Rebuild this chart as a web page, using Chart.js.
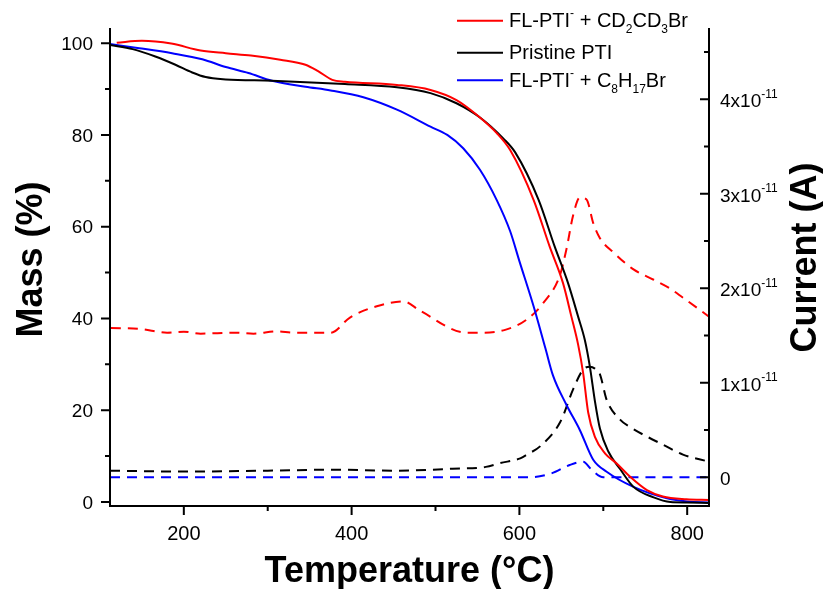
<!DOCTYPE html>
<html>
<head>
<meta charset="utf-8">
<script src="https://cdn.jsdelivr.net/npm/chart.js@4.4.1/dist/chart.umd.min.js"></script>
<style>
  html, body { margin: 0; padding: 0; background: #fff; }
</style>
</head>
<body>
<canvas id="tga" width="823" height="589"></canvas>
<script>
const FONT = '"Liberation Sans", Arial, sans-serif';

// TGA mass curves (temperature in °C, mass in %)
const redTemp = [120, 150, 185, 220, 250, 280, 315, 345, 360, 377, 392, 454, 494, 525, 549, 573, 589, 617, 636, 652, 662, 670, 676, 682, 690, 702, 716, 732, 752, 771, 799, 826];
const redMass = [100.1, 100.5, 99.9, 98.4, 97.8, 97.3, 96.4, 95.3, 93.9, 92.0, 91.6, 90.9, 89.8, 87.6, 84.4, 80.4, 76.7, 65.8, 55.7, 47.7, 40.4, 34.3, 28.1, 19.5, 14.2, 10.6, 8.4, 5.5, 2.6, 1.2, 0.6, 0.45];

const blackTemp = [112, 139, 166, 190, 210, 226, 250, 305, 392, 454, 494, 525, 553, 581, 595, 623, 642, 658, 670, 678, 684, 690, 696, 706, 720, 736, 760, 780, 800, 826];
const blackMass = [99.6, 98.7, 97.1, 95.3, 93.6, 92.6, 92.1, 91.8, 91.1, 90.4, 89.1, 86.9, 83.8, 79.2, 76.2, 65.8, 55.7, 47.7, 40.4, 35.3, 29.5, 22.0, 16.0, 11.0, 7.2, 3.3, 1.0, 0.0, -0.1, -0.2];

const blueTemp = [112, 147, 186, 222, 250, 277, 305, 345, 375, 414, 454, 494, 514, 533, 553, 573, 589, 600, 617, 631, 640, 656, 672, 688, 704, 736, 776, 800, 826];
const blueMass = [99.8, 98.9, 97.8, 96.5, 94.8, 93.5, 91.8, 90.5, 89.7, 88.2, 85.5, 81.8, 80.0, 77.1, 72.4, 65.8, 59.0, 52.5, 42.6, 33.5, 27.6, 21.2, 15.7, 9.2, 6.6, 3.3, 0.8, 0.1, -0.1];

// MS ion current curves (temperature in °C, current in units of 1e-11 A)
const redMsTemp = [113, 148, 180, 200, 220, 260, 283, 311, 331, 375, 398, 430, 462, 482, 537, 557, 583, 609, 629, 648, 656, 664, 672, 680, 688, 696, 712, 736, 760, 779, 795, 826];
const redCurrent = [1.58, 1.57, 1.53, 1.54, 1.52, 1.53, 1.52, 1.545, 1.53, 1.53, 1.69, 1.81, 1.86, 1.76, 1.53, 1.53, 1.56, 1.67, 1.85, 2.13, 2.41, 2.77, 2.96, 2.94, 2.69, 2.53, 2.38, 2.2, 2.09, 2.0, 1.9, 1.7];

const blackMsTemp = [112, 200, 300, 380, 450, 520, 560, 577, 601, 609, 625, 649, 664, 676, 684, 690, 696, 704, 720, 734, 750, 770, 795, 826];
const blackCurrent = [0.07, 0.06, 0.07, 0.08, 0.07, 0.09, 0.11, 0.15, 0.2, 0.24, 0.33, 0.59, 0.93, 1.14, 1.17, 1.15, 1.09, 0.82, 0.61, 0.52, 0.44, 0.35, 0.24, 0.165];

const blueMsTemp = [112, 612, 638, 660, 676, 686, 700, 826];
const blueCurrent = [0, 0, 0.04, 0.13, 0.165, 0.08, 0, 0];

// axis ticks
const tempTicks = [200, 400, 600, 800];
const tempMinor = [300, 500, 700];
const massTicks = [0, 20, 40, 60, 80, 100];
const massMinor = [10, 30, 50, 70, 90];
const currentTicks = [0, 1, 2, 3, 4];
const currentMinor = [0.5, 1.5, 2.5, 3.5, 4.5];

function pts(xs, ys) {
  return xs.map((x, i) => ({ x: x, y: ys[i] }));
}

const SUB = { '₀': '0', '₁': '1', '₂': '2', '₃': '3', '₄': '4', '₅': '5', '₆': '6', '₇': '7', '₈': '8', '₉': '9' };
const SUP = { '⁻': '-', '¹': '1' };

function splitRich(label) {
  // "CD₂" -> [{t:'CD',k:0},{t:'2',k:-1}]
  const parts = [];
  for (const ch of label) {
    let k = 0, c = ch;
    if (SUB[ch]) { k = -1; c = SUB[ch]; }
    else if (SUP[ch]) { k = 1; c = SUP[ch]; }
    const last = parts[parts.length - 1];
    if (last && last.k === k) last.t += c;
    else parts.push({ t: c, k: k });
  }
  return parts;
}

function drawRich(ctx, label, x, y, size) {
  for (const p of splitRich(label)) {
    const s = p.k === 0 ? size : Math.round(size * 0.62);
    ctx.font = s + 'px ' + FONT;
    const dy = p.k === 1 ? -size * 0.5 : p.k === -1 ? size * 0.3 : 0;
    ctx.fillText(p.t, x, y + dy);
    x += ctx.measureText(p.t).width;
  }
  return x;
}

const frame = {
  id: 'frame',
  afterDatasetsDraw(chart) {
    const { ctx, chartArea: a } = chart;
    const sx = chart.scales.x, sy = chart.scales.y, sy2 = chart.scales.y2;
    ctx.save();
    ctx.strokeStyle = '#000';
    ctx.fillStyle = '#000';
    ctx.lineWidth = 2;

    // axis lines (no top line)
    ctx.beginPath();
    ctx.moveTo(a.left, a.top);
    ctx.lineTo(a.left, a.bottom);
    ctx.lineTo(a.right, a.bottom);
    ctx.lineTo(a.right, a.top);
    ctx.stroke();

    // ticks: left and bottom point out, right points in
    ctx.beginPath();
    massTicks.forEach(v => { const p = sy.getPixelForValue(v); ctx.moveTo(a.left - 9, p); ctx.lineTo(a.left, p); });
    massMinor.forEach(v => { const p = sy.getPixelForValue(v); ctx.moveTo(a.left - 5, p); ctx.lineTo(a.left, p); });
    tempTicks.forEach(v => { const p = sx.getPixelForValue(v); ctx.moveTo(p, a.bottom); ctx.lineTo(p, a.bottom + 9); });
    tempMinor.forEach(v => { const p = sx.getPixelForValue(v); ctx.moveTo(p, a.bottom); ctx.lineTo(p, a.bottom + 5); });
    currentTicks.forEach(v => { const p = sy2.getPixelForValue(v); ctx.moveTo(a.right - 9, p); ctx.lineTo(a.right, p); });
    currentMinor.forEach(v => { const p = sy2.getPixelForValue(v); ctx.moveTo(a.right - 5, p); ctx.lineTo(a.right, p); });
    ctx.stroke();

    // tick labels
    ctx.textBaseline = 'alphabetic';
    ctx.font = '19px ' + FONT;
    ctx.textAlign = 'right';
    massTicks.forEach(v => ctx.fillText(String(v), a.left - 17, sy.getPixelForValue(v) + 6.8));
    ctx.font = '20px ' + FONT;
    ctx.textAlign = 'center';
    tempTicks.forEach(v => ctx.fillText(String(v), sx.getPixelForValue(v), a.bottom + 34));
    ctx.textAlign = 'left';
    currentTicks.forEach(v => {
      const label = v === 0 ? '0' : v + 'x10⁻¹¹';
      drawRich(ctx, label, a.right + 11, sy2.getPixelForValue(v) + 8, 19);
    });

    // axis titles
    ctx.font = 'bold 36px ' + FONT;
    ctx.textAlign = 'center';
    ctx.fillText('Temperature (°C)', (a.left + a.right) / 2, 582);
    ctx.save();
    ctx.translate(42, 259.5);
    ctx.rotate(-Math.PI / 2);
    ctx.fillText('Mass (%)', 0, 0);
    ctx.restore();
    ctx.save();
    ctx.translate(816, 257.5);
    ctx.rotate(-Math.PI / 2);
    ctx.fillText('Current (A)', 0, 0);
    ctx.restore();

    // legend, only the mass curves
    ctx.textAlign = 'left';
    const rows = chart.data.datasets.filter(d => d.yAxisID === 'y');
    rows.forEach((d, i) => {
      const base = [27.3, 59.3, 86.7][i];
      ctx.strokeStyle = d.borderColor;
      ctx.beginPath();
      ctx.moveTo(457, base - 6.5);
      ctx.lineTo(503, base - 6.5);
      ctx.stroke();
      drawRich(ctx, d.label, 509, base, 20);
    });
    ctx.restore();
  }
};

function massSet(label, color, xs, ys) {
  return { label: label, data: pts(xs, ys), yAxisID: 'y', borderColor: color, borderWidth: 2, pointRadius: 0, cubicInterpolationMode: 'monotone', order: 0 };
}
function currentSet(label, color, xs, ys) {
  return { label: label, data: pts(xs, ys), yAxisID: 'y2', borderColor: color, borderWidth: 2, borderDash: [10, 7], pointRadius: 0, cubicInterpolationMode: 'monotone', order: 1 };
}

new Chart(document.getElementById('tga'), {
  type: 'line',
  data: {
    datasets: [
      massSet('FL-PTI⁻ + CD₂CD₃Br', '#ff0000', redTemp, redMass),
      massSet('Pristine PTI', '#000000', blackTemp, blackMass),
      massSet('FL-PTI⁻ + C₈H₁₇Br', '#0000ff', blueTemp, blueMass),
      currentSet('Current, FL-PTI⁻ + CD₂CD₃Br', '#ff0000', redMsTemp, redCurrent),
      currentSet('Current, Pristine PTI', '#000000', blackMsTemp, blackCurrent),
      currentSet('Current, FL-PTI⁻ + C₈H₁₇Br', '#0000ff', blueMsTemp, blueCurrent)
    ]
  },
  options: {
    responsive: false,
    animation: false,
    layout: { padding: { left: 110, right: 114, top: 28, bottom: 83 } },
    plugins: { legend: { display: false }, tooltip: { enabled: false } },
    scales: {
      x: { type: 'linear', min: 112, max: 826, display: false },
      y: { type: 'linear', min: -0.87, max: 103.3, display: false },
      y2: { type: 'linear', min: -0.304, max: 4.754, display: false }
    }
  },
  plugins: [frame]
});
</script>
</body>
</html>
